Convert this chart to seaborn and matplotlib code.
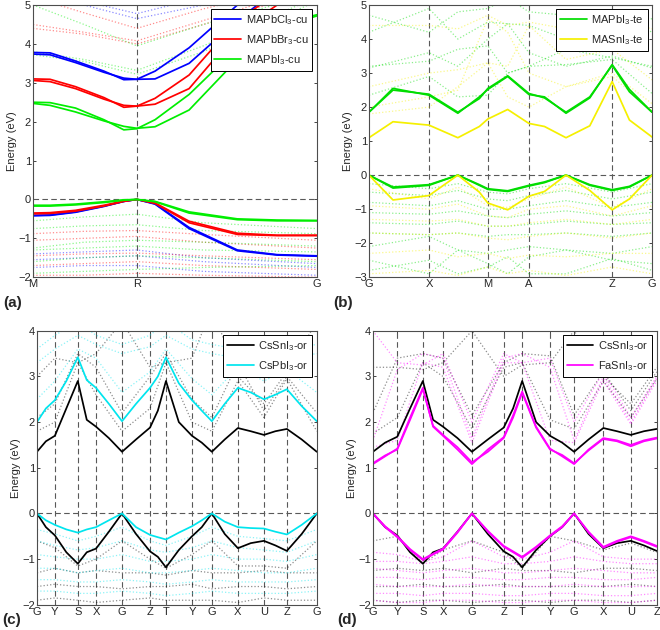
import matplotlib
matplotlib.use('Agg')
import matplotlib.pyplot as plt
import seaborn as sns

sns.set_style('ticks')
plt.rcParams['font.family'] = ['Liberation Sans', 'DejaVu Sans']
plt.rcParams['mathtext.fontset'] = 'custom'
plt.rcParams['mathtext.rm'] = 'Liberation Sans'
plt.rcParams['mathtext.it'] = 'Liberation Sans:italic'

# ---------------- panel (a): cubic, M-R-G ----------------
a_ticks = [0, 0.366, 1.0]
a_labels = ['M', 'R', 'G']
a_k = [0, 0.06, 0.15, 0.25, 0.32, 0.366, 0.43, 0.55, 0.72, 0.86, 1.0]
a_kc = [0, 0.18, 0.366, 0.6, 1.0]

cl_cond = [[3.78, 3.77, 3.56, 3.3, 3.08, 3.09, 3.3, 3.9, 5.0, 5.6, 5.8],
           [3.74, 3.72, 3.52, 3.27, 3.12, 3.09, 3.1, 3.5, 4.6, 5.4, 5.6]]
br_cond = [[3.1, 3.09, 2.9, 2.62, 2.37, 2.4, 2.6, 3.2, 4.6, 5.3, 5.5],
           [3.06, 3.03, 2.85, 2.58, 2.42, 2.4, 2.45, 2.85, 4.3, 5.0, 5.3]]
i_cond = [[2.5, 2.49, 2.35, 2.05, 1.79, 1.82, 2.05, 2.7, 3.9, 4.5, 4.75],
          [2.47, 2.42, 2.25, 2.02, 1.88, 1.83, 1.87, 2.3, 3.6, 4.4, 4.72]]
cl_val = [[-0.42, -0.41, -0.33, -0.18, -0.05, 0, -0.12, -0.75, -1.32, -1.43, -1.46],
          [-0.41, -0.4, -0.32, -0.17, -0.05, 0, -0.11, -0.72, -1.3, -1.42, -1.45]]
br_val = [[-0.37, -0.36, -0.3, -0.17, -0.05, 0, -0.1, -0.6, -0.9, -0.93, -0.93],
          [-0.35, -0.34, -0.28, -0.15, -0.04, 0, -0.09, -0.56, -0.87, -0.92, -0.92]]
i_val = [[-0.17, -0.17, -0.14, -0.08, -0.02, 0, -0.06, -0.35, -0.52, -0.55, -0.55],
         [-0.15, -0.15, -0.12, -0.06, -0.01, 0, -0.05, -0.32, -0.5, -0.53, -0.54]]

cl_dot = [[5.3, 5.0, 4.65, 5.0, 5.6], [5.5, 5.1, 4.78, 5.2, 5.8],
          [-1.4, -1.35, -1.3, -1.5, -1.65], [-1.55, -1.5, -1.45, -1.6, -1.75],
          [-1.75, -1.7, -1.7, -1.85, -1.95]]
br_dot = [[4.4, 4.25, 4.0, 4.5, 5.4], [4.5, 4.3, 4.08, 4.6, 5.5], [5.2, 4.8, 4.4, 4.9, 5.6],
          [-0.88, -0.82, -0.8, -0.9, -1.05], [-1.05, -1.0, -0.95, -1.1, -1.25],
          [-1.45, -1.4, -1.38, -1.45, -1.55], [-1.7, -1.65, -1.6, -1.7, -1.8],
          [-1.95, -1.95, -1.9, -1.95, -2.0]]
i_dot = [[3.72, 3.55, 3.22, 3.8, 5.1], [3.8, 3.6, 3.32, 3.95, 5.2], [5.0, 4.5, 3.95, 4.5, 5.3],
         [-0.55, -0.45, -0.38, -0.6, -0.75], [-0.75, -0.68, -0.65, -0.8, -0.88],
         [-1.25, -1.1, -1.05, -1.1, -1.2], [-1.3, -1.25, -1.2, -1.3, -1.35],
         [-1.6, -1.5, -1.45, -1.5, -1.6], [-1.9, -1.85, -1.8, -1.75, -1.7]]

# ---------------- panel (b): tetragonal ----------------
b_ticks = [0, 0.212, 0.42, 0.565, 0.859, 1.0]
b_labels = ['G', 'X', 'M', 'A', 'Z', 'G']
b_k = [0, 0.085, 0.212, 0.314, 0.39, 0.42, 0.49, 0.565, 0.62, 0.696, 0.78, 0.859, 0.92, 1.0]
b_kc = [0, 0.212, 0.314, 0.42, 0.49, 0.565, 0.696, 0.859, 1.0]

pbte_cond = [[1.85, 2.55, 2.35, 1.82, 2.3, 2.52, 2.9, 2.37, 2.3, 1.82, 2.27, 3.25, 2.52, 1.85],
             [1.85, 2.5, 2.38, 1.85, 2.25, 2.55, 2.92, 2.4, 2.27, 1.85, 2.3, 3.23, 2.45, 1.85]]
snte_cond = [[1.1, 1.57, 1.47, 1.1, 1.43, 1.65, 1.93, 1.52, 1.43, 1.1, 1.45, 2.75, 1.62, 1.12]]
pbte_val = [[0, -0.38, -0.3, 0, -0.3, -0.42, -0.48, -0.32, -0.22, 0, -0.3, -0.45, -0.35, 0],
            [0, -0.35, -0.28, 0, -0.28, -0.4, -0.46, -0.3, -0.2, 0, -0.28, -0.43, -0.33, 0]]
snte_val = [[0, -0.73, -0.6, 0, -0.5, -0.82, -1.02, -0.62, -0.48, 0, -0.45, -1.02, -0.7, 0]]

pbte_dot = [[3.15, 3.6, 3.2, 4.0, 4.45, 3.6, 3.2, 3.5, 3.15],
            [3.2, 3.35, 3.7, 3.8, 3.0, 3.2, 3.7, 3.45, 3.2],
            [4.2, 4.9, 4.0, 4.5, 4.45, 4.4, 4.0, 4.8, 4.2],
            [4.7, 4.2, 4.8, 4.9, 5.2, 4.8, 4.7, 4.3, 4.6],
            [2.35, 2.9, 2.3, 2.35, 3.0, 3.2, 3.25, 3.4, 2.4],
            [-0.25, -0.4, -0.25, -0.5, -0.55, -0.4, -0.25, -0.5, -0.25],
            [-0.5, -0.6, -0.45, -0.7, -0.75, -0.6, -0.45, -0.7, -0.5],
            [-0.8, -0.9, -0.75, -1.0, -1.0, -0.9, -0.75, -0.95, -0.8],
            [-1.1, -1.15, -1.05, -1.2, -1.25, -1.15, -1.05, -1.2, -1.1],
            [-1.4, -1.45, -1.35, -1.5, -1.5, -1.45, -1.35, -1.45, -1.4],
            [-1.7, -1.75, -1.7, -1.8, -1.75, -1.75, -1.7, -1.8, -1.7],
            [-2.1, -1.8, -2.2, -2.3, -2.2, -2.1, -2.2, -2.3, -2.1],
            [-2.5, -2.9, -2.2, -2.6, -2.9, -2.4, -2.2, -2.5, -2.6],
            [-2.8, -2.5, -2.9, -2.7, -2.4, -2.9, -2.9, -2.45, -2.8]]
snte_dot = [[1.8, 2.0, 2.6, 3.3, 2.3, 2.0, 2.6, 2.9, 1.9],
            [2.6, 3.0, 3.1, 3.3, 3.2, 4.4, 3.4, 3.7, 2.8],
            [4.4, 4.4, 4.3, 4.7, 4.4, 4.5, 4.3, 4.6, 4.3],
            [2.0, 2.3, 2.5, 4.6, 4.2, 3.0, 2.6, 3.0, 2.1],
            [-0.4, -0.7, -0.35, -0.9, -0.95, -0.7, -0.35, -0.95, -0.4],
            [-0.9, -1.0, -0.85, -1.2, -1.25, -1.0, -0.9, -1.2, -0.9],
            [-1.3, -1.35, -1.3, -1.5, -1.5, -1.4, -1.3, -1.45, -1.3],
            [-1.7, -1.75, -1.7, -1.85, -1.9, -1.8, -1.7, -1.85, -1.7],
            [-2.3, -2.2, -2.4, -2.3, -2.45, -2.35, -2.4, -2.3, -2.3],
            [-2.9, -2.8, -2.95, -2.7, -2.9, -2.8, -2.95, -2.7, -2.9]]

# ---------------- panel (c): orthorhombic ----------------
c_ticks = [0, 0.064, 0.146, 0.211, 0.304, 0.404, 0.461, 0.554, 0.625, 0.718, 0.811, 0.893, 1.0]
c_labels = ['G', 'Y', 'S', 'X', 'G', 'Z', 'T', 'Y', 'G', 'X', 'U', 'Z', 'G']
c_k = [0, 0.032, 0.064, 0.105, 0.146, 0.178, 0.211, 0.257, 0.304, 0.354, 0.404, 0.432,
       0.461, 0.507, 0.554, 0.589, 0.625, 0.671, 0.718, 0.764, 0.811, 0.852, 0.893, 0.946, 1.0]

cssn_cond_c = [[1.35, 1.58, 1.7, 2.3, 2.9, 2.05, 1.9, 1.65, 1.35, 1.62, 1.88, 2.25, 2.9,
                2.0, 1.7, 1.55, 1.35, 1.62, 1.87, 1.8, 1.72, 1.8, 1.85, 1.62, 1.35]]
cspb_cond = [[2.0, 2.3, 2.48, 2.9, 3.42, 2.92, 2.75, 2.4, 2.02, 2.4, 2.75, 3.0, 3.42,
              2.85, 2.48, 2.25, 2.02, 2.4, 2.75, 2.65, 2.5, 2.6, 2.72, 2.35, 2.02]]
cssn_val_c = [[0, -0.3, -0.48, -0.85, -1.1, -0.85, -0.77, -0.4, 0, -0.45, -0.83, -0.95, -1.18,
               -0.8, -0.5, -0.3, 0, -0.45, -0.76, -0.65, -0.6, -0.7, -0.82, -0.45, 0]]
cspb_val = [[0, -0.15, -0.25, -0.35, -0.42, -0.35, -0.3, -0.15, 0, -0.3, -0.47, -0.52, -0.57,
             -0.42, -0.28, -0.15, 0, -0.18, -0.3, -0.32, -0.33, -0.4, -0.46, -0.25, 0]]

cssn_dot_c = [[1.8, 2.0, 3.3, 2.6, 1.8, 2.3, 3.3, 2.0, 1.8, 2.9, 2.1, 2.95, 1.8],
              [2.1, 2.4, 3.5, 3.2, 2.2, 3.0, 3.5, 2.5, 2.1, 3.3, 2.25, 3.0, 2.2],
              [3.0, 3.4, 3.3, 3.5, 4.2, 3.2, 3.3, 3.4, 4.5, 3.0, 2.4, 3.1, 4.2],
              [-0.6, -0.75, -1.15, -1.0, -0.6, -1.0, -1.2, -0.9, -0.6, -1.15, -1.15, -1.2, -0.6],
              [-1.3, -1.2, -1.3, -1.25, -1.3, -1.3, -1.35, -1.25, -1.3, -1.3, -1.25, -1.3, -1.3],
              [-1.6, -1.55, -1.6, -1.6, -1.65, -1.6, -1.6, -1.55, -1.65, -1.6, -1.6, -1.65, -1.6],
              [-1.9, -1.85, -1.9, -1.95, -1.9, -1.85, -1.9, -1.9, -1.9, -1.95, -1.85, -1.9, -1.9]]
cspb_dot = [[2.5, 2.9, 3.6, 3.4, 2.65, 3.1, 3.6, 2.95, 2.6, 3.2, 2.9, 3.15, 2.65],
            [3.3, 3.6, 3.9, 3.7, 3.5, 3.65, 3.9, 3.6, 3.5, 3.4, 3.1, 3.4, 3.5],
            [3.6, 3.9, 4.2, 3.9, 3.7, 3.9, 4.2, 3.8, 3.7, 3.6, 3.4, 3.6, 3.7],
            [-0.35, -0.45, -0.6, -0.5, -0.3, -0.6, -0.7, -0.5, -0.3, -0.5, -0.55, -0.6, -0.35],
            [-0.6, -0.7, -0.8, -0.75, -0.6, -0.8, -0.85, -0.75, -0.6, -0.75, -0.8, -0.85, -0.6],
            [-0.9, -0.95, -1.0, -1.0, -0.9, -1.05, -1.05, -1.0, -0.9, -1.0, -1.0, -1.05, -0.9],
            [-1.2, -1.2, -1.3, -1.25, -1.2, -1.3, -1.3, -1.25, -1.2, -1.25, -1.3, -1.3, -1.2],
            [-1.45, -1.45, -1.5, -1.5, -1.45, -1.5, -1.55, -1.5, -1.45, -1.5, -1.5, -1.5, -1.45],
            [-1.7, -1.7, -1.75, -1.75, -1.7, -1.75, -1.8, -1.75, -1.7, -1.75, -1.75, -1.75, -1.7]]

# ---------------- panel (d): orthorhombic, ends at Z ----------------
d_ticks = [0, 0.086, 0.176, 0.247, 0.349, 0.461, 0.526, 0.624, 0.709, 0.812, 0.909, 1.0]
d_labels = ['G', 'Y', 'S', 'X', 'G', 'Z', 'T', 'Y', 'G', 'X', 'U', 'Z']
d_k = [0, 0.043, 0.086, 0.131, 0.176, 0.212, 0.247, 0.298, 0.349, 0.405, 0.461, 0.494,
       0.526, 0.575, 0.624, 0.667, 0.709, 0.76, 0.812, 0.86, 0.909, 0.955, 1.0]

cssn_cond_d = [[1.35, 1.55, 1.68, 2.3, 2.9, 2.05, 1.9, 1.65, 1.35, 1.62, 1.88, 2.3, 2.9,
                2.0, 1.7, 1.55, 1.35, 1.62, 1.87, 1.8, 1.72, 1.8, 1.85]]
fasn_cond = [[1.08, 1.25, 1.42, 2.1, 2.75, 1.9, 1.7, 1.4, 1.08, 1.4, 1.67, 2.15, 2.67,
              1.9, 1.42, 1.25, 1.08, 1.4, 1.65, 1.6, 1.5, 1.6, 1.66],
             [1.1, 1.27, 1.4, 2.05, 2.72, 1.92, 1.72, 1.45, 1.12, 1.35, 1.65, 2.1, 2.64,
              1.88, 1.4, 1.28, 1.1, 1.38, 1.63, 1.58, 1.47, 1.58, 1.64]]
cssn_val_d = [[0, -0.3, -0.48, -0.85, -1.1, -0.85, -0.77, -0.4, 0, -0.45, -0.83, -0.95, -1.18,
               -0.8, -0.5, -0.3, 0, -0.45, -0.76, -0.65, -0.6, -0.7, -0.82]]
fasn_val = [[0, -0.3, -0.52, -0.8, -1.02, -0.9, -0.79, -0.42, 0, -0.4, -0.73, -0.85, -0.97,
             -0.75, -0.5, -0.3, 0, -0.42, -0.75, -0.62, -0.52, -0.62, -0.73],
            [0, -0.28, -0.5, -0.78, -1.0, -0.88, -0.77, -0.4, 0, -0.38, -0.71, -0.83, -0.95,
             -0.73, -0.48, -0.28, 0, -0.4, -0.73, -0.6, -0.5, -0.6, -0.71]]

cssn_dot_d = [[1.75, 2.1, 3.3, 3.0, 1.85, 3.2, 3.3, 2.05, 1.85, 2.9, 2.1, 2.95],
              [2.2, 3.4, 3.5, 3.4, 2.15, 3.3, 3.5, 3.45, 2.15, 3.1, 2.25, 3.1],
              [3.2, 3.2, 3.15, 3.3, 4.0, 3.0, 3.25, 3.3, 4.0, 3.0, 2.4, 3.2],
              [-0.6, -0.5, -1.1, -0.8, -0.6, -0.85, -1.2, -0.5, -0.6, -0.8, -0.65, -0.85],
              [-1.25, -1.2, -1.25, -1.2, -1.3, -1.2, -1.25, -1.25, -1.3, -1.2, -1.2, -1.25],
              [-1.6, -1.6, -1.55, -1.6, -1.6, -1.55, -1.6, -1.6, -1.6, -1.6, -1.55, -1.6],
              [-1.9, -1.95, -1.9, -1.9, -1.95, -1.9, -1.9, -1.95, -1.9, -1.9, -1.95, -1.9]]
fasn_dot = [[1.45, 1.6, 3.3, 3.2, 1.55, 3.3, 3.3, 1.6, 1.55, 2.9, 1.95, 2.9],
            [1.6, 3.15, 3.5, 3.4, 1.65, 3.4, 3.5, 3.2, 1.6, 3.0, 2.0, 2.95],
            [4.0, 3.3, 3.25, 3.5, 2.0, 3.5, 3.3, 3.4, 2.0, 3.1, 2.1, 3.0],
            [-0.85, -0.9, -1.05, -0.95, -0.6, -0.95, -1.0, -0.85, -0.6, -0.95, -1.0, -1.0],
            [-1.05, -1.05, -1.1, -1.05, -0.95, -1.1, -1.1, -1.05, -0.95, -1.05, -1.1, -1.1],
            [-1.2, -1.25, -1.3, -1.25, -1.2, -1.3, -1.3, -1.25, -1.2, -1.25, -1.3, -1.3],
            [-1.4, -1.4, -1.45, -1.4, -1.4, -1.45, -1.45, -1.4, -1.4, -1.45, -1.45, -1.4],
            [-1.55, -1.6, -1.6, -1.6, -1.55, -1.6, -1.6, -1.6, -1.55, -1.6, -1.6, -1.6],
            [-1.75, -1.75, -1.8, -1.75, -1.75, -1.8, -1.8, -1.75, -1.75, -1.8, -1.8, -1.75],
            [-1.9, -1.95, -1.95, -1.9, -1.9, -1.95, -1.95, -1.9, -1.9, -1.95, -1.95, -1.9]]


def draw_band(ax, k, e, color, lw, ls, alpha=1.0, label=None):
    sns.lineplot(x=k, y=e, ax=ax, color=color, lw=lw, linestyle=ls, alpha=alpha,
                 sort=False, estimator=None, label=label)


def draw_panel(ax, series, ticks, labels, ylim, tag, tag_xy):
    # series: (color, label, k main, main bands, k dotted, dotted bands)
    for color, lab, km, bands, kd, dots in series:
        for e in dots:
            draw_band(ax, kd, e, color, 0.9, ':', alpha=0.45)
    for color, lab, km, bands, kd, dots in series:
        for i, e in enumerate(bands):
            draw_band(ax, km, e, color, 1.25, '-', label=lab if i == 0 else None)
    for t in ticks[1:-1]:
        ax.axvline(t, color='0.35', ls='--', lw=0.8, dashes=(5, 3), zorder=1)
    ax.axhline(0, color='0.35', ls='--', lw=0.8, dashes=(5, 3), zorder=1)
    ax.set_xlim(0, 1)
    ax.set_ylim(*ylim)
    ax.set_yticks(range(ylim[0], ylim[1] + 1))
    ax.set_xticks(ticks)
    ax.set_xticklabels(labels)
    ax.tick_params(direction='in', length=2.5, labelsize=8, pad=1.5, top=True, right=True,
                   width=0.6)
    ax.set_ylabel('Energy (eV)', fontsize=8, labelpad=1)
    for s in ax.spines.values():
        s.set_linewidth(0.8)
        s.set_color('0.3')
    leg = ax.legend(loc='upper right', fontsize=8, fancybox=False, framealpha=1,
                    edgecolor='black', handlelength=2.4, borderaxespad=0.4,
                    labelspacing=0.55, borderpad=0.35, handletextpad=0.4)
    leg.get_frame().set_linewidth(0.7)
    ax.text(tag_xy[0], tag_xy[1], tag, transform=ax.transAxes, fontsize=11,
            fontweight='bold', ha='left', va='center')


fig = plt.figure(figsize=(6.6, 6.3), dpi=100)
ax_a = fig.add_axes([0.050, 0.560, 0.430, 0.432])
ax_b = fig.add_axes([0.559, 0.560, 0.429, 0.432])
ax_c = fig.add_axes([0.056, 0.040, 0.424, 0.435])
ax_d = fig.add_axes([0.565, 0.040, 0.430, 0.435])

draw_panel(ax_a, [
    ('#0000ff', 'MAPbCl$_3$-cu', a_k, cl_cond + cl_val, a_kc, cl_dot),
    ('#ff0000', 'MAPbBr$_3$-cu', a_k, br_cond + br_val, a_kc, br_dot),
    ('#00ee00', 'MAPbI$_3$-cu', a_k, i_cond + i_val, a_kc, i_dot),
], a_ticks, a_labels, (-2, 5), '(a)', (-0.105, -0.095))

draw_panel(ax_b, [
    ('#00dd00', 'MAPbI$_3$-te', b_k, pbte_cond + pbte_val, b_kc, pbte_dot),
    ('#f5f000', 'MASnI$_3$-te', b_k, snte_cond + snte_val, b_kc, snte_dot),
], b_ticks, b_labels, (-3, 5), '(b)', (-0.125, -0.095))

draw_panel(ax_c, [
    ('#000000', 'CsSnI$_3$-or', c_k, cssn_cond_c + cssn_val_c, c_ticks, cssn_dot_c),
    ('#00e5ee', 'CsPbI$_3$-or', c_k, cspb_cond + cspb_val, c_ticks, cspb_dot),
], c_ticks, c_labels, (-2, 4), '(c)', (-0.125, -0.055))

draw_panel(ax_d, [
    ('#000000', 'CsSnI$_3$-or', d_k, cssn_cond_d + cssn_val_d, d_ticks, cssn_dot_d),
    ('#ff00ff', 'FaSnI$_3$-or', d_k, fasn_cond + fasn_val, d_ticks, fasn_dot),
], d_ticks, d_labels, (-2, 4), '(d)', (-0.127, -0.055))

fig.savefig('out.png', dpi=100)
